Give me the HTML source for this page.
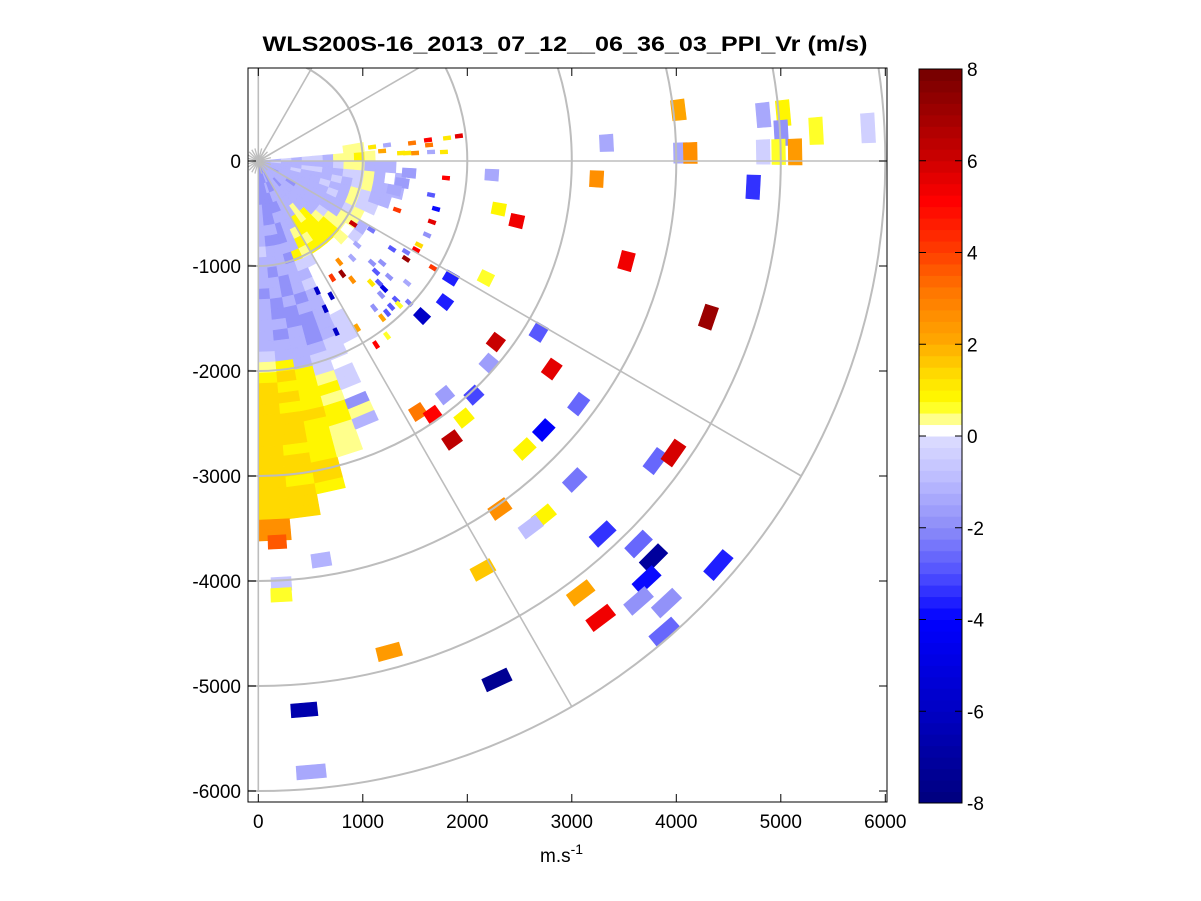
<!DOCTYPE html>
<html><head><meta charset="utf-8"><style>
html,body{margin:0;padding:0;background:#fff;}
svg{display:block;font-family:"Liberation Sans",Arial,sans-serif;}
</style></head><body>
<svg id="chart" width="1201" height="901" viewBox="0 0 1201 901" xmlns="http://www.w3.org/2000/svg">
<defs><clipPath id="pc"><rect x="248" y="68" width="639" height="734"/></clipPath></defs>
<rect x="0" y="0" width="1201" height="901" fill="#fff"/>
<text x="565" y="51" text-anchor="middle" font-size="21" font-weight="bold" textLength="605" lengthAdjust="spacingAndGlyphs">WLS200S-16_2013_07_12__06_36_03_PPI_Vr (m/s)</text>
<g id="cells" clip-path="url(#pc)"></g>
<g id="grid" clip-path="url(#pc)"></g>
<g id="axes"></g>
<g id="cbar"></g>
<text x="540" y="862" font-size="19">m.s<tspan dy="-8" font-size="14">-1</tspan></text>
</svg>
<script>
// ---- data ----
const xTicks=[0,1000,2000,3000,4000,5000,6000];
const yTicks=[0,-1000,-2000,-3000,-4000,-5000,-6000];
const cbTicks=[8,6,4,2,0,-2,-4,-6,-8];
const ringRadii=[1000,2000,3000,4000,5000,6000];
const spokeAngles=[90,60,30,0,-30,-60,-90];
// big range gates: x, y (m), velocity (m/s)
const bigX=[4021,4833,5024,5005,4833,4980,5138,5339,5836,4040,4135,3333,3238,4737,2235,2302,2474,3524,4308,2178,1843,1786,1566,2684,2273,2206,2808,2063,1786,1528,1671,1968,1853,3066,2732,2550,3028,3801,3973,2311,2732,2607,3295,3639,3782,3715,2149,3085,3639,3906,3276,3887,4403,1251,2283,439,506,602,220,220,181,1376,1443,1300];
const bigY=[486,438,457,267,86,86,86,286,314,76,76,171,-171,-248,-133,-457,-571,-952,-1486,-1114,-1114,-1343,-1476,-1629,-1724,-1924,-1981,-2229,-2229,-2390,-2419,-2448,-2657,-2314,-2562,-2743,-3038,-2857,-2781,-3314,-3381,-3486,-3552,-3648,-3781,-3990,-3895,-4114,-4190,-4210,-4352,-4486,-3848,-4676,-4943,-5229,-5819,-3800,-4029,-4133,-3629,-209,-114,-276];
const bigV=[2.2,-1.5,0.9,-2,-0.5,0.6,2.4,0.5,-0.4,-1.3,2.6,-1.5,2.6,-3.5,-1.4,0.9,5.3,5.4,7,0.5,-3.7,-3.6,-6,-2.8,6.2,-1.6,5.6,-3.2,-1.6,3.2,5.2,0.9,6.4,-2.6,-4.2,0.9,-2.4,-2.6,5.8,2.6,0.9,-0.8,-3.5,-2.7,-7.2,-4,1.6,2.2,-2,-2,5.3,-2.7,-3.6,2.4,-7.3,-6.6,-1.5,-1.2,-0.7,0.6,3.6,-1.6,-1.6,-1.3];
// small near-range gates
const smallX=[1624,1920,1806,1471,1500,1232,1089,1185,1424,1366,1634,1777,1653,1796,1653,1701,1662,1615,1538,1510,1414,1414,1280,1328,1080,908,1672,1185,1127,1156,1252,1424,1080,1204,1175,1318,1271,1443,1347,1108,1232,1185,946,745,803,707,898,898,946,1089,774,564,697,640,1127,1232];
const smallY=[200,238,219,171,76,152,133,95,76,76,152,86,86,-162,-323,-456,-580,-704,-799,-846,-865,-932,-837,-466,-656,-599,-1017,-970,-1055,-1160,-1103,-1160,-1160,-1217,-1274,-1322,-1388,-1350,-1369,-1398,-1445,-1493,-1588,-1626,-1074,-1112,-1131,-922,-799,-970,-960,-1236,-1284,-1407,-1750,-1664];
const smallV=[5,5.5,1,3,2.5,-1.5,1,2,1.2,1,3,1,-1.5,5,-3,-4,5.5,-2,1.3,5,-2.5,7,-3,4,-2.5,6,4,-2,-3,-3,-2,-1.5,1,-5,-2,-3,-3,-2.5,0.5,-2,-3,2,2,-6,7,4,2.5,-1.5,-1.5,-2,2.5,-6,-6,-6,5,0.5];
// dense sector: rows = range gates (100 m steps), columns = azimuth bins (5 deg from -90)
const denseCodes={m:-1.9,l:-1.2,p:-0.4,w:0.35,y:0.9,g:1.3,o:2.6};
const denseRows=[
"mmmmmllllllllllllll.",
"mmmmlmllllllmllllpl.",
"mmmlmmllmlllllllllp.",
"mmmmlllllllmlllplll.",
"lmmmmlllllllllllplp.",
"lmmllllwllllllllplp.",
"lllmllywylllllpllll.",
"lmmmlwyyywpllplplpw.",
"pllllywyyywlllllpwww",
"lllmywyyyywwpwwppwyw",
"lmllpp...w.wwppwwlw.",
"llmll.....pl.pllll..",
"mlmlp.........ll.l..",
"lmlml..........ll...",
"lmmll...............",
"llmml...............",
"lmlmlp..............",
"lllmlp..............",
"plllpp..............",
"wylpp...............",
"ygyp................",
"gyywp...............",
"ggyyp...............",
"gyyw................",
"gggym...............",
"ggyyw...............",
"ggywl...............",
"gyyw................",
"ggyw................",
"ggg.................",
"gyg.................",
"ggy.................",
"gg..................",
"gg..................",
"o...................",
"o..................."];
// ---- scales ----
const X0=258.3, Y0=161, SX=0.10450, SY=0.10500;
function px(x){return X0+x*SX;}
function py(y){return Y0-y*SY;}
const NS="http://www.w3.org/2000/svg";
function mk(tag,attrs,parent){const e=document.createElementNS(NS,tag);for(const k in attrs)e.setAttribute(k,attrs[k]);parent.appendChild(e);return e;}
// colormap (64 bins over -8..8)
const negStops=[[0,[222,222,255]],[-1,[185,185,255]],[-2,[140,140,248]],[-3,[80,80,255]],[-4,[0,0,255]],[-6,[0,0,195]],[-8,[0,0,125]]];
const posStops=[[0,[255,255,255]],[0.25,[255,255,140]],[0.6,[255,255,0]],[1.2,[255,220,0]],[2,[255,165,0]],[3,[255,120,0]],[4,[255,55,0]],[5,[255,0,0]],[6,[200,0,0]],[8,[110,0,0]]];
function interp(st,v){for(let i=0;i<st.length-1;i++){const a=st[i],b=st[i+1];const lo=Math.min(a[0],b[0]),hi=Math.max(a[0],b[0]);if(v>=lo&&v<=hi){const t=(v-a[0])/(b[0]-a[0]);return a[1].map((c,j)=>Math.round(c+(b[1][j]-c)*t));}}return st[st.length-1][1];}
function color(v){v=Math.max(-8,Math.min(7.999,v));const bin=Math.floor((v+8)/0.25);const c=-8+bin*0.25+0.125;const col=c>=0?interp(posStops,c-0.125):interp(negStops,c);return `rgb(${col[0]},${col[1]},${col[2]})`;}
// ---- cells ----
const cells=document.getElementById('cells');
function polyCell(r0,r1,a0,a1,v){const pts=[[r0,a0],[r1,a0],[r1,a1],[r0,a1]].map(([r,a])=>{const t=a*Math.PI/180;return px(r*Math.cos(t)).toFixed(1)+","+py(r*Math.sin(t)).toFixed(1);}).join(" ");
 const p=mk('polygon',{points:pts,fill:color(v),stroke:color(v),'stroke-width':0.6},cells);
 
 }
denseRows.forEach((row,ri)=>{for(let ci=0;ci<row.length;ci++){const ch=row[ci];if(!(ch in denseCodes))continue;
 polyCell(ri*100+20,ri*100+120,-90+ci*5,-85+ci*5,denseCodes[ch]);}});
function gate(x,y,v,halfR,halfT){const r=Math.hypot(x,y),a=Math.atan2(y,x)*180/Math.PI;const da=halfT/r*180/Math.PI;polyCell(r-halfR,r+halfR,a-da,a+da,v);}
for(let i=0;i<bigX.length;i++){const r=Math.hypot(bigX[i],bigY[i]);gate(bigX[i],bigY[i],bigV[i],65,Math.max(45,r*0.024));}
for(let i=0;i<smallX.length;i++){gate(smallX[i],smallY[i],smallV[i],35,18);}
// ---- grid ----
const grid=document.getElementById('grid');
ringRadii.forEach(r=>{const c=mk('ellipse',{cx:X0,cy:Y0,rx:r*SX,ry:r*SY,fill:'none',stroke:'#bdbdbd','stroke-width':2},grid);
 
 });
spokeAngles.forEach(a=>{const t=a*Math.PI/180;const l=mk('line',{x1:X0,y1:Y0,x2:px(6000*Math.cos(t)),y2:py(6000*Math.sin(t)),stroke:'#bdbdbd','stroke-width':1.6},grid);
 
 });
for(let a=0;a<360;a+=15){const t=a*Math.PI/180;const l=mk('line',{x1:X0,y1:Y0,x2:X0+13*Math.cos(t),y2:Y0-13*Math.sin(t),stroke:'#bdbdbd','stroke-width':1.3},grid);
 
 }
// ---- axes ----
const axes=document.getElementById('axes');
const box=mk('rect',{x:248,y:68,width:639,height:734,fill:'none',stroke:'#000','stroke-width':1},axes);


xTicks.forEach(v=>{const x=px(v);
 mk('line',{x1:x,y1:802,x2:x,y2:794,stroke:'#000'},axes);mk('line',{x1:x,y1:68,x2:x,y2:76,stroke:'#000'},axes);
 const t=mk('text',{x:x,y:828,'text-anchor':'middle','font-size':19},axes);t.textContent=v;
 
 });
yTicks.forEach(v=>{const y=py(v);
 mk('line',{x1:248,y1:y,x2:256,y2:y,stroke:'#000'},axes);mk('line',{x1:887,y1:y,x2:879,y2:y,stroke:'#000'},axes);
 const t=mk('text',{x:241,y:y+7,'text-anchor':'end','font-size':19},axes);t.textContent=v;
 
 });
// ---- colorbar ----
const cb=document.getElementById('cbar');
const CT=69,CB=803,CL=919,CR=962;
function cy(v){return CB-(v+8)/16*(CB-CT);}
for(let b=0;b<64;b++){const v0=-8+b*0.25;const r=mk('rect',{x:CL,y:cy(v0+0.25),width:CR-CL,height:cy(v0)-cy(v0+0.25)+0.5,fill:color(v0+0.1)},cb);
 
 }
const cf=mk('rect',{x:CL,y:CT,width:CR-CL,height:CB-CT,fill:'none',stroke:'#000'},cb);


cbTicks.forEach(v=>{const y=cy(v);
 mk('line',{x1:CL,y1:y,x2:CL+7,y2:y,stroke:'#000'},cb);mk('line',{x1:CR,y1:y,x2:CR-7,y2:y,stroke:'#000'},cb);
 const t=mk('text',{x:967,y:y+7,'font-size':19},cb);t.textContent=v;
 
 });
</script>
</body></html>
